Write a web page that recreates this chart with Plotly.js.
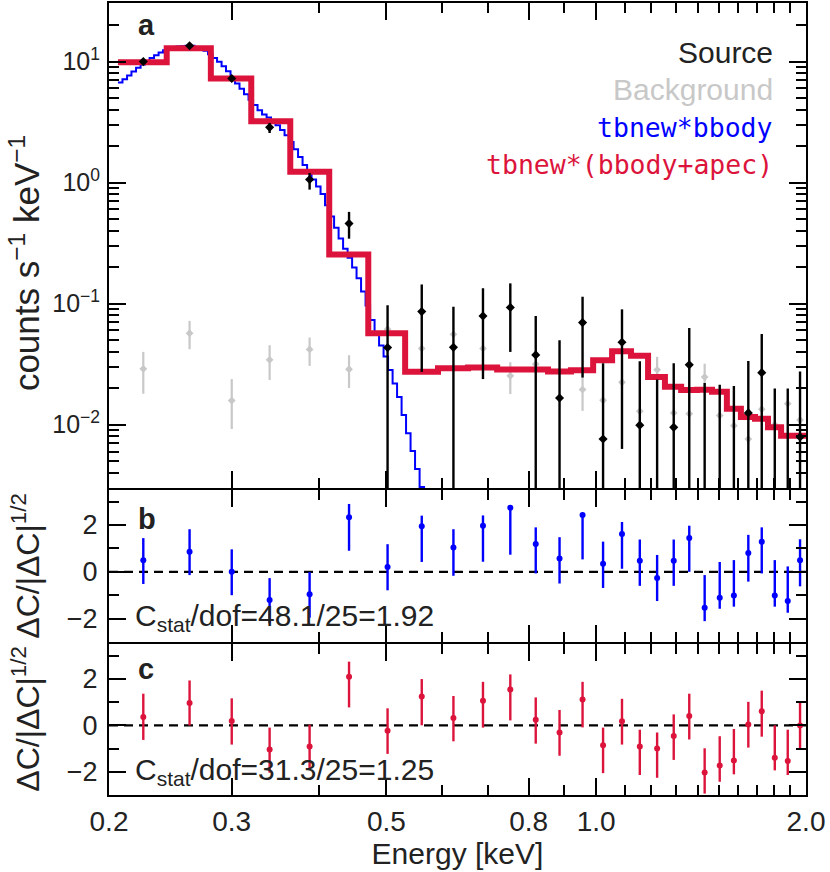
<!DOCTYPE html>
<html>
<head>
<meta charset="utf-8">
<script src="https://cdn.plot.ly/plotly-3.0.1.min.js"></script>
<style>
  body { margin: 0; background: #fff; }
  #plot { width: 830px; height: 872px; }
</style>
</head>
<body>
<div id="plot"></div>
<script>
// energy bins [keV]: centres of the data points and edges of the model histogram
var binCentre = [0.224, 0.261, 0.300, 0.340, 0.388, 0.442, 0.502, 0.562, 0.624, 0.688, 0.753, 0.819, 0.886, 0.956,
                 1.023, 1.089, 1.155, 1.223, 1.292, 1.360, 1.431, 1.504, 1.576, 1.653, 1.728, 1.804, 1.883, 1.961];
var binEdge = [0.206, 0.242, 0.280, 0.320, 0.364, 0.414, 0.471, 0.532, 0.593, 0.655, 0.721, 0.785, 0.853, 0.920, 0.990,
               1.054, 1.122, 1.187, 1.255, 1.324, 1.395, 1.466, 1.540, 1.613, 1.690, 1.764, 1.842, 1.922, 2.0];

// source spectrum (counts s^-1 keV^-1), upper / lower end of the error bar (0 = bar runs off the axis)
var srcRate = [10.0, 13.5, 7.24, 2.86, 1.06, 0.459, 0.0433, 0.0859, 0.0435, 0.0791, 0.0931, 0.0377, 0.0166, 0.0697,
               0.0076, 0.048, 0.0099, 0.002, 0.0095, 0.0312, 0.002, 0.002, 0.002, 0.0125, 0.0269, 0.002, 0.002, 0.0079];
var srcHi = [10.3, 13.9, 7.6, 3.10, 1.20, 0.573, 0.0968, 0.144, 0.0944, 0.134, 0.147, 0.0791, 0.0498, 0.114,
             0.0322, 0.0897, 0.0334, 0.0236, 0.0322, 0.063, 0.0221, 0.0214, 0.0209, 0.0336, 0.0561, 0.0199, 0.0199, 0.0275];
var srcLo = [9.7, 13.1, 6.9, 2.57, 0.875, 0.344, 0, 0.0273, 0, 0.0238, 0.0399, 0, 0, 0.0245,
             0, 0.0063, 0, 0, 0, 0, 0, 0, 0, 0, 0, 0, 0, 0];

// background spectrum
var bkgRate = [0.0289, 0.0569, 0.0158, 0.0343, 0.0418, 0.0287, 0.0614, 0.0426, 0.0558, 0.0426, 0.0253, 0.0316, 0.0275, 0.0195,
               0.0159, 0.0224, 0.0129, 0.0284, 0.0125, 0.0123, 0.0247, 0.0119, 0.0098, 0.0076, 0.0134, 0.0100, 0.0149, 0.0109];
var bkgHi = [0.0399, 0.072, 0.0238, 0.0453, 0.0525, 0.0375, 0.0614, 0.0426, 0.0558, 0.0426, 0.0328, 0.0316, 0.0275, 0.0287,
             0.0159, 0.0224, 0.0129, 0.0363, 0.0125, 0.0123, 0.0319, 0.0119, 0.0098, 0.0076, 0.0134, 0.0100, 0.0149, 0.0109];
var bkgLo = [0.018, 0.042, 0.0092, 0.0234, 0.0306, 0.0201, 0.0614, 0.0426, 0.0558, 0.0426, 0.0179, 0.0316, 0.0275, 0.0130,
             0.0159, 0.0224, 0.0129, 0.0230, 0.0125, 0.0123, 0.0201, 0.0119, 0.0098, 0.0076, 0.0134, 0.0100, 0.0149, 0.0109];

// tbnew*bbody model on its fine grid
var bbE = [0.2060, 0.2091, 0.2123, 0.2154, 0.2187, 0.2220, 0.2253, 0.2287, 0.2321, 0.2356, 0.2391, 0.2427, 0.2463, 0.2500,
           0.2537, 0.2575, 0.2614, 0.2653, 0.2693, 0.2733, 0.2774, 0.2816, 0.2858, 0.2901, 0.2944, 0.2988, 0.3033, 0.3078,
           0.3124, 0.3171, 0.3219, 0.3267, 0.3316, 0.3366, 0.3416, 0.3467, 0.3519, 0.3572, 0.3625, 0.3680, 0.3735, 0.3791,
           0.3848, 0.3905, 0.3964, 0.4023, 0.4083, 0.4145, 0.4207, 0.4270, 0.4334, 0.4399, 0.4465, 0.4531, 0.4599, 0.4668,
           0.4738, 0.4809, 0.4881, 0.4954, 0.5028, 0.5104, 0.5180, 0.5258, 0.5336, 0.5416, 0.5497, 0.5580, 0.5663];
var bbModel = [6.71, 7.16, 7.66, 8.28, 8.89, 9.48, 10.1, 10.7, 11.3, 11.9, 12.4, 12.8, 13.1, 13.3,
               13.4, 13.5, 13.5, 13.2, 13.0, 12.3, 11.5, 10.7, 9.95, 9.13, 8.32, 7.37, 6.59, 5.95,
               5.37, 4.84, 4.38, 3.97, 3.66, 3.45, 3.24, 2.98, 2.72, 2.46, 2.17, 1.89, 1.63, 1.40,
               1.22, 1.06, 0.929, 0.804, 0.650, 0.524, 0.423, 0.345, 0.284, 0.239, 0.199, 0.162, 0.126, 0.0964,
               0.0734, 0.0557, 0.0451, 0.0366, 0.0283, 0.0219, 0.0169, 0.0120, 0.00851, 0.00606, 0.00430, 0.00306, 0.00218];

// tbnew*(bbody+apec) model, one value per data bin
var bbApecModel = [9.85, 12.9, 7.25, 3.22, 1.23, 0.255, 0.0569, 0.0273, 0.0292, 0.0296, 0.0286, 0.0286, 0.0275, 0.0282,
                   0.0340, 0.0404, 0.0371, 0.0247, 0.0206, 0.0193, 0.0194, 0.0187, 0.01355, 0.01156, 0.01117, 0.00953, 0.0081, 0.0081];

// residuals dC/|dC|^1/2 with the two ends of each bar
var resBB = [0.49, 0.86, 0, -1.21, -0.96, 2.33, 0.2, 1.95, 1.04, 1.97, 2.74, 1.19, 0.57, 2.43,
             0.34, 1.62, 0.47, -0.26, 0.47, 1.44, -1.54, -1.11, -1.01, 0.8, 1.28, -1.01, -1.25, 0.49];
var resBBHi = [1.44, 1.82, 0.96, -0.27, -0.01, 2.90, 1.18, 2.40, 1.82, 2.41, 2.83, 1.90, 1.48, 2.50,
               1.29, 2.13, 1.38, 0.72, 1.38, 1.97, -0.14, 0.42, 0.5, 1.58, 1.90, 0.5, 0.23, 1.39];
var resBBLo = [-0.52, -0.14, -1.0, -2.2, -1.96, 0.9, -0.79, 0.42, -0.17, 0.43, 0.73, -0.07, -0.5, 0.53,
               -0.69, 0.13, -0.6, -1.25, -0.6, 0, -2.11, -1.58, -1.49, -0.42, -0.07, -1.49, -1.75, -0.62];
var resApec = [0.36, 0.96, 0.19, -1.04, -0.91, 2.09, -0.24, 1.24, 0.31, 1.06, 1.54, 0.24, -0.31, 1.11,
               -0.86, 0.17, -0.91, -1.0, -0.46, 0.4, -2.03, -1.73, -1.51, 0.03, 0.6, -1.4, -1.54, -0.01];
var resApecHi = [1.36, 1.93, 1.16, -0.1, 0.03, 2.74, 0.73, 1.99, 1.26, 1.87, 2.19, 1.2, 0.66, 1.87,
                 -0.1, 1.14, -0.19, -0.31, 0.47, 1.36, -0.99, -0.47, -0.16, 1.01, 1.49, 0, -0.19, 0.96];
var resApecLo = [-0.63, -0.01, -0.83, -2.04, -1.89, 0.77, -1.23, 0, -0.69, -0.1, 0.21, -0.79, -1.31, -0.09,
                 -2.06, -0.83, -2.14, -2.26, -1.49, -0.61, -2.94, -2.43, -2.11, -0.96, -0.49, -1.94, -2.14, -1.0];

var xTicks = [0.2, 0.3, 0.5, 0.8, 1, 2];
var xTickText = ['0.2', '0.3', '0.5', '0.8', '1.0', '2.0'];
var xMinor = [0.4, 0.6, 0.7, 0.9, 1.1, 1.2, 1.3, 1.4, 1.5, 1.6, 1.7, 1.8, 1.9];
var yTicks = [0.01, 0.1, 1, 10];
var yTickText = ['10<sup>\u22122</sup>', '10<sup>\u22121</sup>', '10<sup>0</sup>', '10<sup>1</sup>'];
var resTicks = [-2, 0, 2];
var resTickText = ['\u22122', '0', '2'];

var RED = '#dc143c', BLUE = '#0000ff', GREY = '#c8c8c8', INK = '#222';
var FONT = '"Liberation Sans", Arial, sans-serif';
var MONO = '"DejaVu Sans Mono", monospace';

function diff(a, b) {
  return a.map(function (v, i) { return v - b[i]; });
}

// minor ticks of the log count axis
var yMinor = [];
[0.001, 0.01, 0.1, 1, 10].forEach(function (d) {
  for (var m = 2; m <= 9; m++) yMinor.push(m * d);
});

var data = [
  {
    x: binCentre, y: bkgRate, xaxis: 'x', yaxis: 'y', type: 'scatter', mode: 'markers',
    marker: {color: GREY, size: 6, symbol: 'diamond'},
    error_y: {type: 'data', symmetric: false, array: diff(bkgHi, bkgRate), arrayminus: diff(bkgRate, bkgLo),
              width: 0, thickness: 2.2, color: GREY},
    showlegend: false
  },
  {
    x: bbE, y: bbModel, xaxis: 'x', yaxis: 'y', type: 'scatter', mode: 'lines',
    line: {color: BLUE, width: 2, shape: 'hv'}, showlegend: false
  },
  {
    x: binEdge, y: bbApecModel.concat([bbApecModel[bbApecModel.length - 1]]), xaxis: 'x', yaxis: 'y',
    type: 'scatter', mode: 'lines', line: {color: RED, width: 6, shape: 'hv'}, showlegend: false
  },
  {
    x: binCentre, y: srcRate, xaxis: 'x', yaxis: 'y', type: 'scatter', mode: 'markers',
    marker: {color: '#000', size: 7, symbol: 'diamond'},
    error_y: {type: 'data', symmetric: false, array: diff(srcHi, srcRate), arrayminus: diff(srcRate, srcLo),
              width: 0, thickness: 2.4, color: '#000'},
    showlegend: false
  },
  {
    x: binCentre, y: resBB, xaxis: 'x2', yaxis: 'y2', type: 'scatter', mode: 'markers',
    marker: {color: BLUE, size: 6},
    error_y: {type: 'data', symmetric: false, array: diff(resBBHi, resBB), arrayminus: diff(resBB, resBBLo),
              width: 0, thickness: 2.4, color: BLUE},
    showlegend: false
  },
  {
    x: binCentre, y: resApec, xaxis: 'x3', yaxis: 'y3', type: 'scatter', mode: 'markers',
    marker: {color: RED, size: 6},
    error_y: {type: 'data', symmetric: false, array: diff(resApecHi, resApec), arrayminus: diff(resApec, resApecLo),
              width: 0, thickness: 2.4, color: RED},
    showlegend: false
  }
];

function xAxis(anchor, labels) {
  return {
    type: 'log', range: [Math.log10(0.2), Math.log10(2.0)], anchor: anchor,
    showline: true, linecolor: '#000', linewidth: 2, mirror: 'allticks',
    ticks: 'inside', ticklen: 17, tickwidth: 2, tickcolor: '#000',
    tickmode: 'array', tickvals: xTicks, ticktext: xTickText, showticklabels: labels,
    minor: {tickmode: 'array', tickvals: xMinor, ticks: 'inside', ticklen: 10, tickwidth: 2, tickcolor: '#000'},
    showgrid: false, zeroline: false,
    tickfont: {family: FONT, size: 28, color: INK}
  };
}

function resAxis(domain, anchor) {
  return {
    domain: domain, range: [-3, 3.5], anchor: anchor,
    showline: true, linecolor: '#000', linewidth: 2, mirror: 'allticks',
    ticks: 'inside', ticklen: 17, tickwidth: 2, tickcolor: '#000',
    tickmode: 'array', tickvals: resTicks, ticktext: resTickText,
    minor: {tickmode: 'array', tickvals: [-3, -1, 1, 3], ticks: 'inside', ticklen: 10, tickwidth: 2, tickcolor: '#000'},
    showgrid: false, zeroline: false, ticklabelstandoff: 4,
    tickfont: {family: FONT, size: 27, color: INK}
  };
}

var xc = xAxis('y3', true);
xc.title = {text: 'Energy [keV]', font: {family: FONT, size: 30, color: INK}, standoff: 6};

function label(text, x, y, opts) {
  var a = {text: text, xref: 'paper', yref: 'paper', x: x, y: y, showarrow: false,
           xanchor: 'left', yanchor: 'middle', font: {family: FONT, size: 30, color: INK}};
  for (var k in opts) a[k] = opts[k];
  return a;
}

var layout = {
  width: 830, height: 872,
  margin: {l: 109, r: 24, t: 3, b: 77},
  paper_bgcolor: '#fff', plot_bgcolor: '#fff',
  showlegend: false,
  xaxis: xAxis('y', false),
  xaxis2: xAxis('y2', false),
  xaxis3: xc,
  // panels are offset by one line width so the shared frame lines fall on top of each other
  yaxis: {
    type: 'log', domain: [0.3877, 1], range: [-2.523, 1.484], anchor: 'x',
    showline: true, linecolor: '#000', linewidth: 2, mirror: 'allticks',
    ticks: 'inside', ticklen: 17, tickwidth: 2, tickcolor: '#000',
    tickmode: 'array', tickvals: yTicks, ticktext: yTickText,
    minor: {tickmode: 'array', tickvals: yMinor, ticks: 'inside', ticklen: 10, tickwidth: 2, tickcolor: '#000'},
    showgrid: false, zeroline: false, ticklabelstandoff: 2,
    tickfont: {family: FONT, size: 25, color: INK}
  },
  yaxis2: resAxis([0.1932, 0.3852], 'x2'),
  yaxis3: resAxis([0, 0.1907], 'x3'),
  shapes: [
    {type: 'line', xref: 'x2 domain', yref: 'y2', x0: 0, x1: 1, y0: 0, y1: 0, layer: 'below',
     line: {color: '#000', width: 2.2, dash: '9px,6px'}},
    {type: 'line', xref: 'x3 domain', yref: 'y3', x0: 0, x1: 1, y0: 0, y1: 0, layer: 'below',
     line: {color: '#000', width: 2.2, dash: '9px,6px'}}
  ],
  annotations: [
    label('<b>a</b>', 0.0387, 0.9722, {font: {family: FONT, size: 29, color: INK}}),
    label('<b>b</b>', 0.0387, 0.3485, {font: {family: FONT, size: 29, color: INK}}),
    label('<b>c</b>', 0.0387, 0.1591, {font: {family: FONT, size: 29, color: INK}}),
    label('Source', 0.9555, 0.9381, {xanchor: 'right'}),
    label('Background', 0.9555, 0.8914, {xanchor: 'right', font: {family: FONT, size: 30, color: GREY}}),
    label('tbnew*bbody', 0.9555, 0.8422, {xanchor: 'right', font: {family: MONO, size: 26.5, color: BLUE}}),
    label('tbnew*(bbody+apec)', 0.9555, 0.7955, {xanchor: 'right', font: {family: MONO, size: 26.5, color: RED}}),
    label('C<sub>stat</sub>/dof=48.1/25=1.92', 0.0350, 0.2235, {}),
    label('C<sub>stat</sub>/dof=31.3/25=1.25', 0.0350, 0.0303, {}),
    label('counts s<sup>\u22121</sup> keV<sup>\u22121</sup>', -0.1215, 0.672,
          {xanchor: 'center', textangle: -90, font: {family: FONT, size: 35, color: INK}}),
    label('\u0394C/|\u0394C|<sup>1/2</sup>', -0.1195, 0.2891,
          {xanchor: 'center', textangle: -90, font: {family: FONT, size: 32, color: INK}}),
    label('\u0394C/|\u0394C|<sup>1/2</sup>', -0.1195, 0.096,
          {xanchor: 'center', textangle: -90, font: {family: FONT, size: 32, color: INK}})
  ]
};

Plotly.newPlot('plot', data, layout, {displayModeBar: false, staticPlot: true});
</script>
</body>
</html>
